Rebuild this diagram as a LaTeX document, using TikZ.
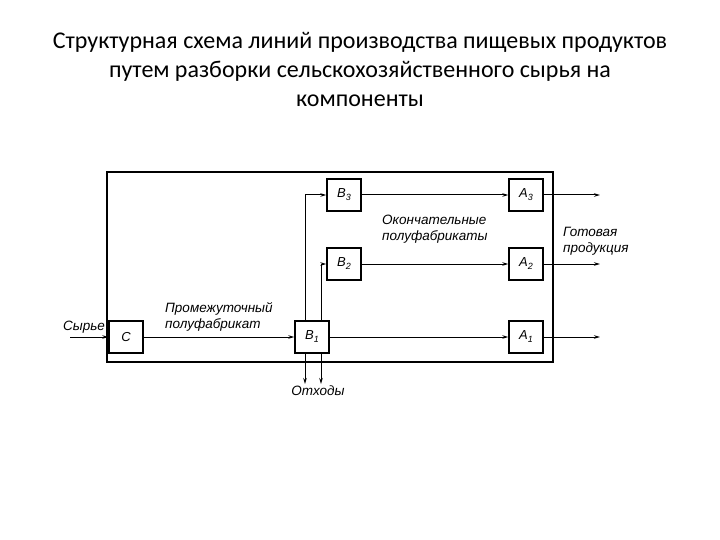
\documentclass[tikz,border=0pt]{standalone}
\usepackage{fontspec}
\setmainfont{Carlito}
\newfontfamily\diagfont{Liberation Sans}
\usetikzlibrary{arrows.meta}
\newcommand{\blab}[2]{#1\raisebox{-3pt}{\fontsize{9}{9}\selectfont #2}}
\begin{document}
\begin{tikzpicture}[x=1pt,y=-1pt,
  blk/.style={draw, line width=1.4pt, minimum width=34pt, minimum height=32pt, inner sep=0pt,
    font=\diagfont\itshape\fontsize{13}{14}\selectfont},
  ln/.style={line width=1pt},
  arr/.style={ln, -{Stealth[length=6pt,width=3.5pt]}},
  lbl/.style={font=\diagfont\itshape\fontsize{13.5}{16}\selectfont, align=left, inner sep=0pt}]
\useasboundingbox (0,0) rectangle (720,540);
\node[font=\fontsize{24}{29}\selectfont, align=center] (title) at (360,69)
  {Структурная схема линий производства пищевых продуктов\\
   путем разборки сельскохозяйственного сырья на\\
   компоненты};
\node[draw, line width=1.6pt, minimum width=446pt, minimum height=190pt, inner sep=0pt] (frame) at (330,267) {};
\node[blk] (C)  at (126,337) {C};
\node[blk] (B1) at (312,337) {\blab{B}{1}};
\node[blk] (B2) at (344,264) {\blab{B}{2}};
\node[blk] (B3) at (344,195) {\blab{B}{3}};
\node[blk] (A1) at (526,337) {\blab{A}{1}};
\node[blk] (A2) at (526,264) {\blab{A}{2}};
\node[blk] (A3) at (526,195) {\blab{A}{3}};
\coordinate (in) at (70,337);
\coordinate (w1) at (305,384);
\coordinate (w2) at (321,384);
\coordinate (o1) at (600,337);
\coordinate (o2) at (600,264);
\coordinate (o3) at (600,195);
\draw[arr] (in) -- (C);
\draw[arr] (C) -- (B1);
\draw[arr] ([xshift=-7pt]B1.north) |- (B3.west);
\draw[arr] ([xshift=9pt]B1.north) |- (B2.west);
\draw[arr] ([xshift=-7pt]B1.south) -- (w1);
\draw[arr] ([xshift=9pt]B1.south) -- (w2);
\draw[arr] (B1) -- (A1);
\draw[arr] (B2) -- (A2);
\draw[arr] (B3) -- (A3);
\draw[arr] (A1) -- (o1);
\draw[arr] (A2) -- (o2);
\draw[arr] (A3) -- (o3);
\node[lbl, anchor=center] (syr) at (84,327) {Сырье};
\node[lbl, anchor=north west] (prom) at (165,302) {Промежуточный\\полуфабрикат};
\node[lbl, anchor=north west] (okon) at (382,215) {Окончательные\\полуфабрикаты};
\node[lbl, anchor=north west] (got) at (563,227) {Готовая\\продукция};
\node[lbl, anchor=center] (oth) at (318,391) {Отходы};
\end{tikzpicture}
\end{document}
